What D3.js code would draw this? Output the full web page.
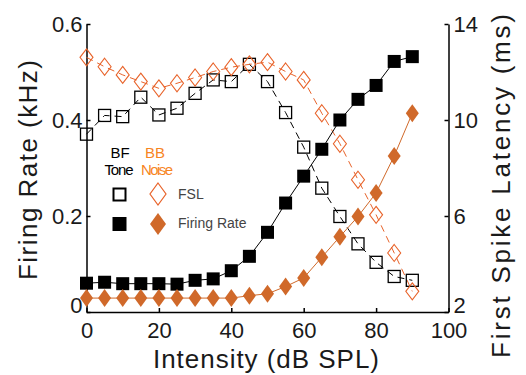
<!DOCTYPE html>
<html>
<head>
<meta charset="utf-8">
<script src="https://cdn.jsdelivr.net/npm/d3@7"></script>
<style>
  body { margin: 0; background: #fff; }
  svg { font-family: "Liberation Sans", Arial, sans-serif; }
</style>
</head>
<body>
<svg id="chart" width="526" height="375"></svg>
<script>
// intensity levels (dB SPL)
const intensity = [0, 5, 10, 15, 20, 25, 30, 35, 40, 45, 50, 55, 60, 65, 70, 75, 80, 85, 90];

// firing rate (kHz), left axis
const toneRate = [0.060, 0.062, 0.059, 0.059, 0.059, 0.058, 0.066, 0.069, 0.086, 0.116, 0.166, 0.227, 0.283, 0.339, 0.400, 0.443, 0.472, 0.522, 0.532];
const noiseRate = [0.029, 0.029, 0.029, 0.029, 0.029, 0.029, 0.029, 0.029, 0.029, 0.034, 0.038, 0.053, 0.071, 0.114, 0.157, 0.199, 0.248, 0.325, 0.414];

// first spike latency (ms), right axis
const toneFSL = [9.41, 10.19, 10.14, 10.95, 10.21, 10.49, 11.11, 11.67, 11.60, 12.32, 11.60, 10.31, 8.87, 7.16, 5.98, 4.84, 4.07, 3.48, 3.32];
const noiseFSL = [12.61, 12.22, 11.88, 11.60, 11.32, 11.53, 11.77, 12.02, 12.20, 12.32, 12.41, 12.02, 11.67, 10.28, 9.01, 7.51, 6.05, 4.46, 2.86];

const xTicks = [0, 20, 40, 60, 80, 100];
const yLeftTicks = [0, 0.2, 0.4, 0.6];
const yRightTicks = [2, 6, 10, 14];

const orange = "#d0692a";
const orangeLine = "#e8632a";

const svg = d3.select("#chart");

const x = d3.scaleLinear().domain([0, 100]).range([86.5, 448.5]);
const yL = d3.scaleLinear().domain([0, 0.6]).range([312, 24]);
const yR = d3.scaleLinear().domain([2, 14]).range([312, 24]);

// axes (ticks point inward)
const gx = svg.append("g").attr("transform", "translate(0,312)")
  .call(d3.axisBottom(x).tickValues(xTicks).tickSize(-4).tickSizeOuter(0).tickPadding(10));
const gl = svg.append("g").attr("transform", "translate(86.5,0)")
  .call(d3.axisLeft(yL).tickValues(yLeftTicks).tickSize(-4).tickSizeOuter(0).tickPadding(4)
    .tickFormat(d => d === 0 ? "0" : d3.format(".1f")(d)));
const gr = svg.append("g").attr("transform", "translate(448.5,0)")
  .call(d3.axisRight(yR).tickValues(yRightTicks).tickSize(-4).tickSizeOuter(0).tickPadding(5));

[gx, gl, gr].forEach(g => {
  g.selectAll("path, line").attr("stroke", "#000").attr("stroke-width", 1.5);
  g.selectAll("text").attr("font-size", 22).attr("fill", "#1a1a1a")
    .attr("font-family", "'Liberation Sans', Arial, sans-serif");
});
// bottom labels of the y axes sit a bit higher
gl.selectAll(".tick").filter(d => d === 0).select("text").attr("dy", "0.0em");
gr.selectAll(".tick").filter(d => d === 2).select("text").attr("dy", "0.0em");

// axis titles
svg.append("text").attr("x", 266).attr("y", 368).attr("text-anchor", "middle")
  .attr("font-size", 26).attr("fill", "#1a1a1a")
  .attr("textLength", 226).attr("lengthAdjust", "spacing")
  .text("Intensity (dB SPL)");
svg.append("text").attr("transform", "translate(37,170) rotate(-90)").attr("text-anchor", "middle")
  .attr("font-size", 26).attr("fill", "#1a1a1a")
  .attr("textLength", 220).attr("lengthAdjust", "spacing")
  .text("Firing Rate (kHz)");
svg.append("text").attr("transform", "translate(510,186) rotate(-90)").attr("text-anchor", "middle")
  .attr("font-size", 26).attr("fill", "#1a1a1a")
  .attr("textLength", 344).attr("lengthAdjust", "spacing")
  .text("First Spike Latency (ms)");

const plot = svg.append("g");

const lineL = d3.line().x((d, i) => x(intensity[i])).y(d => yL(d));
const lineR = d3.line().x((d, i) => x(intensity[i])).y(d => yR(d));

const diamond = (w, h) => `M0,${-h / 2}L${w / 2},0L0,${h / 2}L${-w / 2},0Z`;

// FSL lines (dashed)
plot.append("path").attr("d", lineR(toneFSL)).attr("fill", "none")
  .attr("stroke", "#000").attr("stroke-width", 1).attr("stroke-dasharray", "7,5");
plot.append("path").attr("d", lineR(noiseFSL)).attr("fill", "none")
  .attr("stroke", orangeLine).attr("stroke-width", 1).attr("stroke-dasharray", "7,5");

// firing rate lines
plot.append("path").attr("d", lineL(toneRate)).attr("fill", "none")
  .attr("stroke", "#000").attr("stroke-width", 1);
plot.append("path").attr("d", lineL(noiseRate)).attr("fill", "none")
  .attr("stroke", orange).attr("stroke-width", 1);

// markers
plot.selectAll(".tfsl").data(toneFSL).enter().append("rect")
  .attr("x", (d, i) => x(intensity[i]) - 6).attr("y", d => yR(d) - 6)
  .attr("width", 12).attr("height", 12)
  .attr("fill", "none").attr("stroke", "#000").attr("stroke-width", 1.3);
plot.selectAll(".nfsl").data(noiseFSL).enter().append("path")
  .attr("transform", (d, i) => `translate(${x(intensity[i])},${yR(d)})`)
  .attr("d", diamond(13, 17))
  .attr("fill", "none").attr("stroke", orangeLine).attr("stroke-width", 1.1);
plot.selectAll(".trate").data(toneRate).enter().append("rect")
  .attr("x", (d, i) => x(intensity[i]) - 6.5).attr("y", d => yL(d) - 6.5)
  .attr("width", 13).attr("height", 13).attr("fill", "#000");
plot.selectAll(".nrate").data(noiseRate).enter().append("path")
  .attr("transform", (d, i) => `translate(${x(intensity[i])},${yL(d)})`)
  .attr("d", diamond(13, 18)).attr("fill", orange);

// legend
const leg = svg.append("g");
leg.append("text").attr("x", 120).attr("y", 158).attr("text-anchor", "middle")
  .attr("font-size", 15).attr("fill", "#000").text("BF");
leg.append("text").attr("x", 119).attr("y", 175).attr("text-anchor", "middle")
  .attr("font-size", 15).attr("fill", "#000").attr("textLength", 29).text("Tone");
leg.append("text").attr("x", 155).attr("y", 158).attr("text-anchor", "middle")
  .attr("font-size", 15).attr("fill", "#f7861f").text("BB");
leg.append("text").attr("x", 157).attr("y", 175).attr("text-anchor", "middle")
  .attr("font-size", 15).attr("fill", "#f7861f").attr("textLength", 32).text("Noise");

leg.append("rect").attr("x", 113.5).attr("y", 188.5).attr("width", 12).attr("height", 12)
  .attr("fill", "none").attr("stroke", "#000").attr("stroke-width", 2);
leg.append("rect").attr("x", 112.5).attr("y", 217).attr("width", 14).attr("height", 14)
  .attr("fill", "#000");
leg.append("path").attr("transform", "translate(158,194)").attr("d", diamond(16, 22))
  .attr("fill", "none").attr("stroke", orangeLine).attr("stroke-width", 1.2);
leg.append("path").attr("transform", "translate(158,224)").attr("d", diamond(16, 22))
  .attr("fill", orange);

leg.append("text").attr("x", 178).attr("y", 199).attr("font-size", 14).attr("fill", "#444").text("FSL");
leg.append("text").attr("x", 178).attr("y", 228).attr("font-size", 14).attr("fill", "#444").text("Firing Rate");
</script>
</body>
</html>
